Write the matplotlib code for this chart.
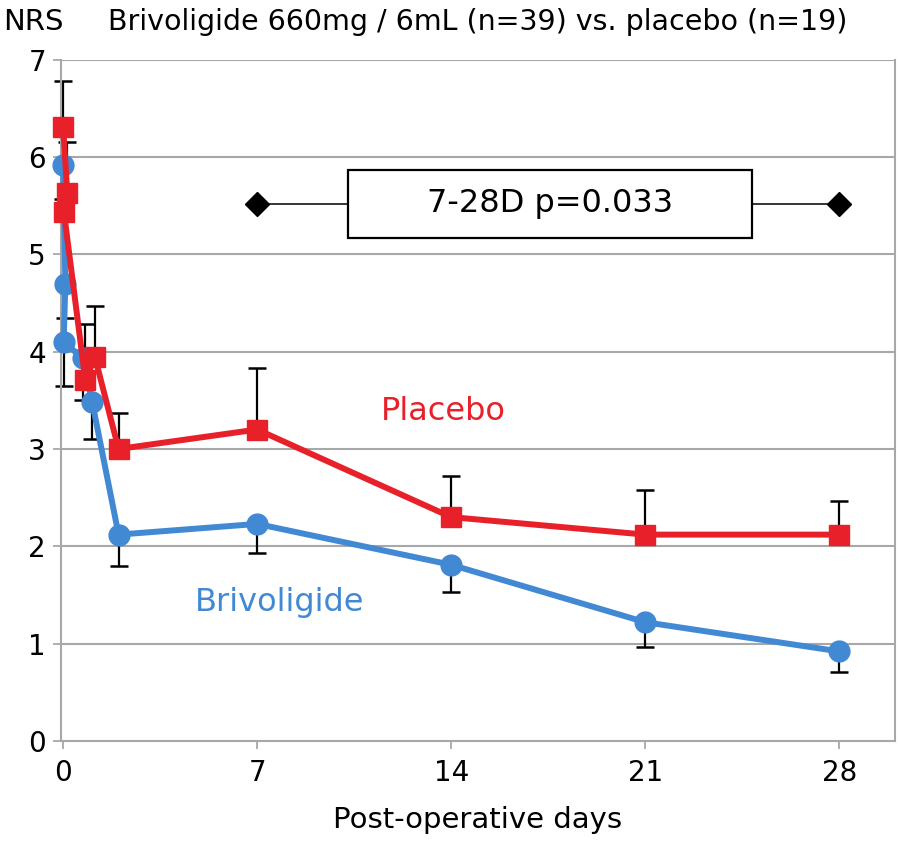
import numpy as np
import matplotlib
matplotlib.use("Agg")
import matplotlib.pyplot as plt
from matplotlib.patches import Rectangle

plt.rcParams['font.family'] = ['DejaVu Sans']

# post-operative time (days)
blue_days = [0.0, 0.08, 0.02, 0.72, 1.05, 2, 7, 14, 21, 28]
red_days = [0.0, 0.15, 0.03, 0.80, 1.15, 2, 7, 14, 21, 28]

# mean NRS
brivo = [5.92, 4.70, 4.10, 3.93, 3.48, 2.12, 2.23, 1.81, 1.22, 0.92]
placebo = [6.31, 5.63, 5.43, 3.71, 3.94, 3.00, 3.20, 2.30, 2.12, 2.12]

# error bars (blue drawn downward, red upward)
brivo_err = [0.35, 0.35, 0.45, 0.43, 0.38, 0.32, 0.30, 0.28, 0.25, 0.21]
placebo_err = [0.47, 0.52, 0.50, 0.57, 0.53, 0.37, 0.63, 0.42, 0.46, 0.35]

xticks = [0, 7, 14, 21, 28]
bracket_days = [7, 28]
bracket_y = 5.52
stat_text = "7-28D p=0.033"

BLUE = '#4289D4'
RED = '#E8202A'
GRID = '#A8A8A8'

fig = plt.figure(figsize=(9, 8.41), dpi=100)
ax = fig.add_axes([0.068, 0.119, 0.926, 0.810])

for y in range(1, 8):
    ax.axhline(y, color=GRID, lw=1.5, zorder=0)

# error bars
bx = np.array(blue_days); by = np.array(brivo); be = np.array(brivo_err)
rx = np.array(red_days); ry = np.array(placebo); re = np.array(placebo_err)
ax.vlines(bx, by - be, by, color='black', lw=1.6, zorder=2, clip_on=False)
ax.plot(bx, by - be, ls='none', marker='_', ms=13, mew=1.8, color='black',
        zorder=2, clip_on=False)
ax.vlines(rx, ry, ry + re, color='black', lw=1.6, zorder=2, clip_on=False)
ax.plot(rx, ry + re, ls='none', marker='_', ms=13, mew=1.8, color='black',
        zorder=2, clip_on=False)

ax.plot(blue_days, brivo, color=BLUE, lw=4.3, marker='o', ms=15, zorder=3, clip_on=False)
ax.plot(red_days, placebo, color=RED, lw=4.3, marker='s', ms=14.5, zorder=4, clip_on=False)

# significance bracket
ax.plot(bracket_days, [bracket_y] * 2, color='black', lw=1.1, marker='D', ms=12, zorder=5)
ax.add_patch(Rectangle((10.27, 5.17), 14.6, 0.70, facecolor='white',
                       edgecolor='black', lw=1.6, zorder=6))
ax.text(17.57, 5.52, stat_text, ha='center', va='center', fontsize=23, zorder=7)

ax.text(13.7, 3.38, 'Placebo', color=RED, fontsize=23, ha='center', va='center')
ax.text(7.8, 1.42, 'Brivoligide', color=BLUE, fontsize=23, ha='center', va='center')

ax.set_xlim(-0.07, 30.0)
ax.set_ylim(0, 7)
ax.set_xticks(xticks)
ax.set_yticks(range(0, 8))
ax.tick_params(axis='both', labelsize=20, color=GRID, length=6, width=1.3)
ax.tick_params(axis='x', pad=7)
ax.tick_params(axis='y', pad=5)
for s in ax.spines.values():
    s.set_color(GRID)
    s.set_linewidth(1.5)
ax.spines['top'].set_visible(False)
ax.set_xlabel('Post-operative days', fontsize=21, labelpad=14)

fig.text(0.003, 0.974, 'NRS', fontsize=21, ha='left', va='center')
fig.text(0.531, 0.974, 'Brivoligide 660mg / 6mL (n=39) vs. placebo (n=19)',
         fontsize=20.5, ha='center', va='center')

fig.savefig('out.png', dpi=100)
